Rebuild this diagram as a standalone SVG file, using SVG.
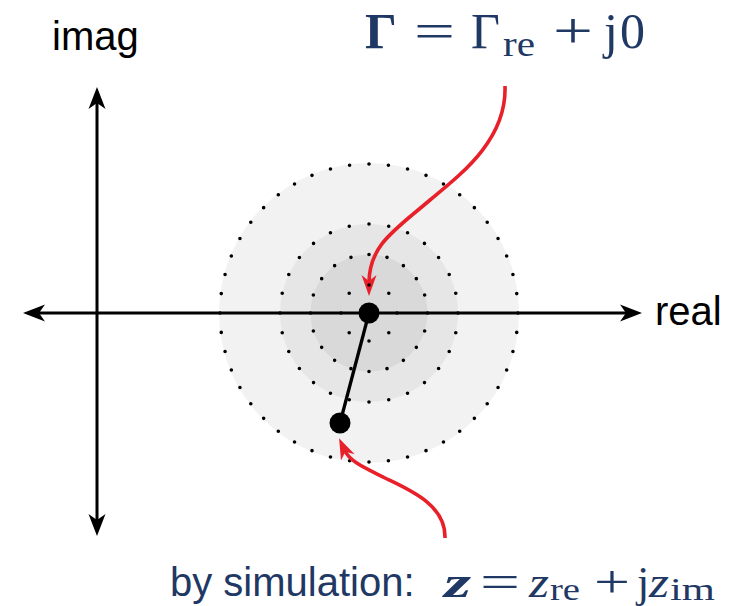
<svg xmlns="http://www.w3.org/2000/svg" width="740" height="606" viewBox="0 0 740 606">
<style>
.lbl{font-family:"Liberation Sans",Arial,sans-serif;font-size:40px;fill:#000}
.blue{fill:#1f3864}
.math{font-family:"Liberation Serif","Times New Roman",serif;fill:#1f3864}
.ring{fill:none;stroke:#000;stroke-width:3.6;stroke-linecap:round;stroke-dasharray:0 1}
.axis{stroke:#000;stroke-width:3;fill:none}
.red{stroke:#e8202a;stroke-width:3.6;fill:none}
</style>
<defs>
<marker id="ah" markerUnits="userSpaceOnUse" markerWidth="24" markerHeight="20" viewBox="0 -10 24 20" refX="8" refY="0" orient="auto-start-reverse">
<path d="M0,-8.5 L22,0 L0,8.5 L6,0 Z" fill="#000"/>
</marker>
<marker id="rh" markerUnits="userSpaceOnUse" markerWidth="24" markerHeight="18" viewBox="0 -9 24 18" refX="8" refY="0" orient="auto">
<path d="M0,-7.5 L21,0 L0,7.5 L6,0 Z" fill="#e8202a"/>
</marker>
</defs>

<g id="region">
<circle cx="369" cy="313" r="150" fill="#f2f2f2"/>
<circle cx="369" cy="313" r="89" fill="#e6e6e6"/>
<circle cx="369" cy="313" r="58.5" fill="#d9d9d9"/>
<circle class="ring" cx="369" cy="313" r="149" pathLength="48"/>
<circle class="ring" cx="369" cy="313" r="89" pathLength="28"/>
<circle class="ring" cx="369" cy="313" r="58.5" pathLength="20"/>
</g>

<g id="connectors">
<path class="red" d="M505,86 C507,140 460,175 430,200 C395,230 369,245 369,283" marker-end="url(#rh)"/>
<path class="red" d="M445,538 C446,505 410,490 385,478 C365,468 350,462 344.5,450" marker-end="url(#rh)"/>
</g>

<g id="inner-ring">
<circle class="ring" cx="369" cy="313" r="28" pathLength="8"/>
</g>

<g id="axes">
<line class="axis" x1="37" y1="313" x2="628" y2="313" marker-start="url(#ah)" marker-end="url(#ah)"/>
<line class="axis" x1="97" y1="101" x2="97" y2="522" marker-start="url(#ah)" marker-end="url(#ah)"/>
<text class="lbl" x="52" y="50">imag</text>
<text class="lbl" x="655" y="325">real</text>
</g>

<g id="points">
<line x1="369" y1="313" x2="340" y2="423" stroke="#000" stroke-width="3.3"/>
<circle id="gamma-point" cx="369" cy="313" r="10.5" fill="#000"/>
<circle id="z-point" cx="340" cy="423" r="10.5" fill="#000"/>
</g>

<g id="label-gamma" class="math">
<text x="365" y="48" font-size="50" font-weight="bold">Γ</text>
<text x="414" y="48" font-size="50" textLength="41" lengthAdjust="spacingAndGlyphs">=</text>
<text x="471" y="48" font-size="50">Γ</text>
<text x="503" y="56" font-size="36" textLength="32" lengthAdjust="spacingAndGlyphs">re</text>
<text x="553" y="48" font-size="50" textLength="40" lengthAdjust="spacingAndGlyphs">+</text>
<text x="604" y="48" font-size="50">j</text>
<text x="620" y="48" font-size="50">0</text>
</g>

<g id="label-z">
<text class="lbl blue" x="170" y="596" font-size="41">by simulation:</text>
<g class="math">
<text x="444" y="597" font-size="44" font-weight="bold" font-style="italic" textLength="27" lengthAdjust="spacingAndGlyphs">z</text>
<text x="480" y="597" font-size="46" textLength="40" lengthAdjust="spacingAndGlyphs">=</text>
<text x="529" y="597" font-size="44" font-style="italic" textLength="20" lengthAdjust="spacingAndGlyphs">z</text>
<text x="550" y="600" font-size="31" textLength="30" lengthAdjust="spacingAndGlyphs">re</text>
<text x="594" y="597" font-size="46" textLength="36" lengthAdjust="spacingAndGlyphs">+</text>
<text x="637" y="597" font-size="44">j</text>
<text x="649" y="597" font-size="44" font-style="italic" textLength="20" lengthAdjust="spacingAndGlyphs">z</text>
<text x="670" y="600" font-size="31" textLength="45" lengthAdjust="spacingAndGlyphs">im</text>
</g>
</g>
</svg>
